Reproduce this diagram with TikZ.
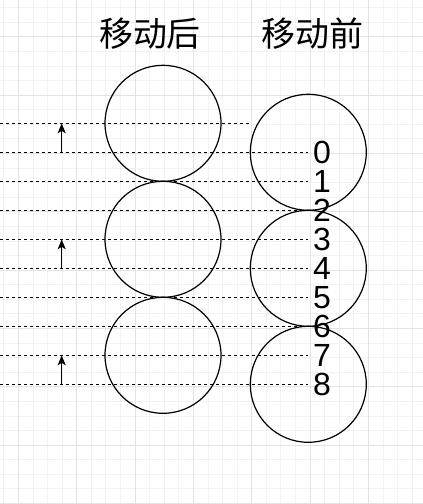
\documentclass[tikz,border=0pt]{standalone}
\usepackage{fontspec}
\setmainfont{Liberation Sans}
\newfontfamily\cjk{Noto Sans CJK SC}
\usetikzlibrary{arrows.meta,shapes}
\tikzset{
  ball/.style={draw, circle, line width=1.2pt, minimum size=116pt, inner sep=0pt},
  level/.style={line width=1pt, dash pattern=on 3pt off 3pt},
  num/.style={font=\fontsize{32}{32}\selectfont, inner sep=0pt},
  title/.style={font=\cjk\fontsize{34}{34}\selectfont, inner sep=0pt},
  shiftup/.style={-{Stealth[length=10pt,width=8pt,inset=2.5pt]}, line width=1.3pt},
  gridminor/.style={draw=black!5, line width=0.6pt},
  gridmajor/.style={draw=black!11, line width=0.8pt}
}
\begin{document}
\begin{tikzpicture}[x=1pt,y=-1pt]
\useasboundingbox (0,0) rectangle (423,504);
% grid
\begin{scope}[shift={(18.3,36.7)}]
\draw[gridminor] (-18.3,467.3) grid[step=14.583pt] (404.7,-36.7);
\draw[gridmajor] (-18.3,467.3) grid[step=58.333pt] (404.7,-36.7);
\end{scope}
\node[title] (after) at (150,34) {移动后};
\node[title] (before) at (312,34) {移动前};
\node[ball] (a1) at (163,123.3) {};
\node[ball] (a2) at (163,239.3) {};
\node[ball] (a3) at (163,355.3) {};
\node[ball] (b1) at (308.3,152.3) {};
\node[ball] (b2) at (308.3,268.3) {};
\node[ball] (b3) at (308.3,384.3) {};
\foreach \i in {0,...,9} \coordinate (s\i) at (0,123.3+29*\i);
\coordinate (e0) at (250,123.3);
\draw[level] (s0) -- (e0);
\foreach \i in {1,...,9} {
  \coordinate (e\i) at (308,123.3+29*\i);
  \draw[level] (s\i) -- (e\i);
}
\foreach \d [count=\i] in {0,...,8} \node[num] (n\d) at (322,123.3+29*\i) {\d};
\coordinate (u1) at (61.7,152.3);
\coordinate (t1) at (61.7,123.3);
\coordinate (u2) at (61.7,268.3);
\coordinate (t2) at (61.7,239.3);
\coordinate (u3) at (61.7,384.3);
\coordinate (t3) at (61.7,355.3);
\draw[shiftup] (u1) -- (t1);
\draw[shiftup] (u2) -- (t2);
\draw[shiftup] (u3) -- (t3);
\end{tikzpicture}
\end{document}
